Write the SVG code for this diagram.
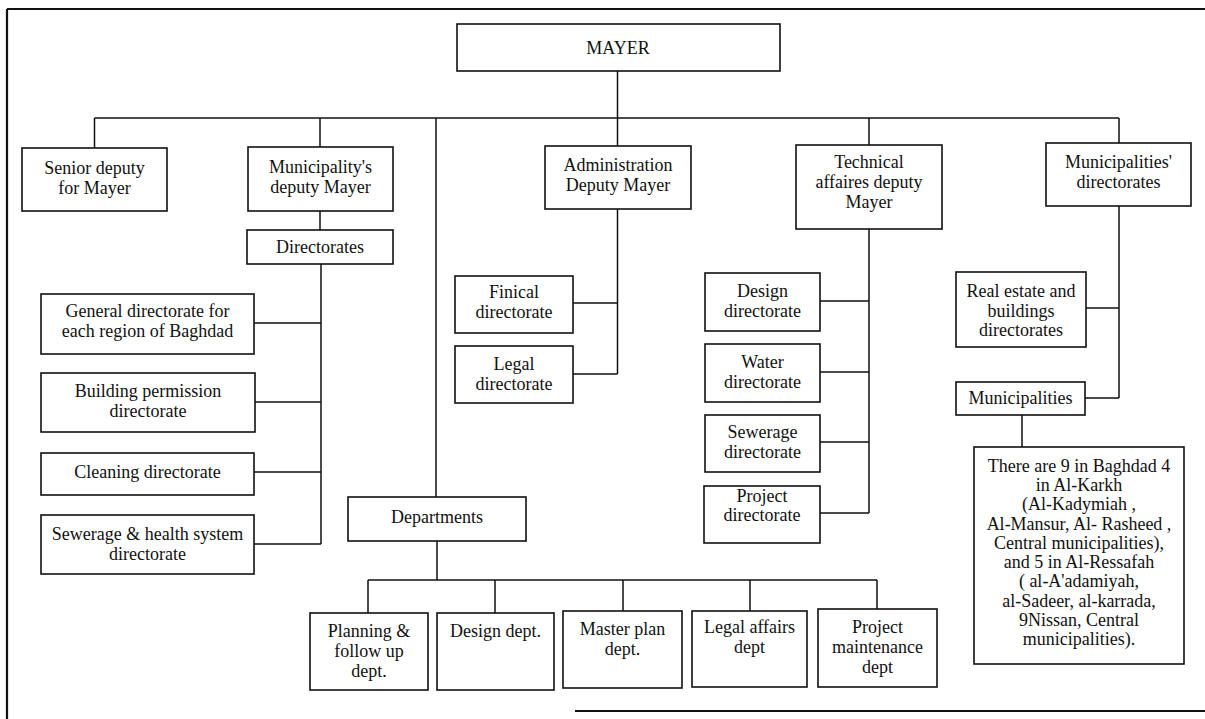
<svg xmlns="http://www.w3.org/2000/svg" width="1205" height="719" viewBox="0 0 1205 719">
<style>
.box{fill:#fff;stroke:#111;stroke-width:1.6}
.ln{fill:none;stroke:#111;stroke-width:1.5}
.frame{fill:none;stroke:#111;stroke-width:2.2}
text{font-family:"Liberation Serif","Times New Roman",serif;font-size:18px;fill:#111;text-anchor:middle}
</style>
<rect width="1205" height="719" fill="#fff"/>
<g id="frame">
<path class="frame" d="M7,9 H1205 M7,9 V719 M575,711 H1205"/>
</g>
<g id="connectors">
<path class="ln" d="M617.5,71 V118 M94.5,118 H1119 M94.5,118 V148 M320,118 V147 M436,118 V497 M617.5,118 V146 M869,118 V145 M1119,118 V143"/>
<path class="ln" d="M320,211 V230 M321,264 V544 M254,323 H321 M255,402 H321 M254,472 H321 M254,544 H321"/>
<path class="ln" d="M617.5,209 V374 M573,303 H617.5 M573,374 H617.5"/>
<path class="ln" d="M869,229 V513 M820,301 H869 M820,372 H869 M820,442 H869 M820,513 H869"/>
<path class="ln" d="M1119,206 V398 M1086,308 H1119 M1085,398 H1119 M1022,415 V447"/>
<path class="ln" d="M437,541 V580 M368,580 H877 M368,580 V613 M495,580 V613 M623,580 V611 M750,580 V611 M877,580 V609"/>
</g>
<g id="mayer"><rect class="box" x="457" y="24" width="323" height="47"/><text x="618" y="54">MAYER</text></g>
<g id="senior"><rect class="box" x="22" y="148" width="145" height="63"/><text x="94.5" y="174">Senior deputy</text><text x="94.5" y="194">for Mayer</text></g>
<g id="munideputy"><rect class="box" x="248" y="147" width="145" height="64"/><text x="320.5" y="173">Municipality's</text><text x="320.5" y="193">deputy Mayer</text></g>
<g id="admin"><rect class="box" x="545" y="146" width="146" height="63"/><text x="618" y="171">Administration</text><text x="618" y="191">Deputy Mayer</text></g>
<g id="technical"><rect class="box" x="796" y="145" width="146" height="84"/><text x="869" y="168">Technical</text><text x="869" y="188">affaires deputy</text><text x="869" y="208">Mayer</text></g>
<g id="munidirs"><rect class="box" x="1046" y="143" width="145" height="63"/><text x="1118.5" y="168">Municipalities'</text><text x="1118.5" y="188">directorates</text></g>
<g id="directorates"><rect class="box" x="247" y="230" width="146" height="34"/><text x="320" y="253">Directorates</text></g>
<g id="general"><rect class="box" x="41" y="294" width="213" height="60"/><text x="147.5" y="317">General directorate for</text><text x="147.5" y="337">each region of Baghdad</text></g>
<g id="building"><rect class="box" x="41" y="373" width="214" height="59"/><text x="148" y="397">Building permission</text><text x="148" y="417">directorate</text></g>
<g id="cleaning"><rect class="box" x="41" y="453" width="213" height="42"/><text x="147.5" y="478">Cleaning directorate</text></g>
<g id="sewhealth"><rect class="box" x="41" y="515" width="213" height="59"/><text x="147.5" y="540">Sewerage &amp; health system</text><text x="147.5" y="560">directorate</text></g>
<g id="finical"><rect class="box" x="455" y="276" width="118" height="57"/><text x="514" y="298">Finical</text><text x="514" y="318">directorate</text></g>
<g id="legal"><rect class="box" x="455" y="346" width="118" height="57"/><text x="514" y="370">Legal</text><text x="514" y="390">directorate</text></g>
<g id="design"><rect class="box" x="705" y="273" width="115" height="58"/><text x="762.5" y="297">Design</text><text x="762.5" y="317">directorate</text></g>
<g id="water"><rect class="box" x="705" y="344" width="115" height="58"/><text x="762.5" y="368">Water</text><text x="762.5" y="388">directorate</text></g>
<g id="sewerage"><rect class="box" x="705" y="415" width="115" height="57"/><text x="762.5" y="438">Sewerage</text><text x="762.5" y="458">directorate</text></g>
<g id="project"><rect class="box" x="704" y="486" width="116" height="57"/><text x="762" y="502">Project</text><text x="762" y="521">directorate</text></g>
<g id="realestate"><rect class="box" x="956" y="272" width="130" height="75"/><text x="1021" y="297">Real estate and</text><text x="1021" y="317">buildings</text><text x="1021" y="336">directorates</text></g>
<g id="municipalities"><rect class="box" x="956" y="382" width="129" height="33"/><text x="1020.5" y="404">Municipalities</text></g>
<g id="bigbox"><rect class="box" x="974" y="447" width="210" height="217"/>
<text x="1079" y="472">There are 9 in Baghdad 4</text>
<text x="1079" y="491">in Al-Karkh</text>
<text x="1079" y="510">(Al-Kadymiah ,</text>
<text x="1079" y="530">Al-Mansur, Al- Rasheed ,</text>
<text x="1079" y="549">Central municipalities),</text>
<text x="1079" y="568">and 5 in Al-Ressafah</text>
<text x="1079" y="587">( al-A'adamiyah,</text>
<text x="1079" y="607">al-Sadeer, al-karrada,</text>
<text x="1079" y="626">9Nissan, Central</text>
<text x="1079" y="645">municipalities).</text>
</g>
<g id="departments"><rect class="box" x="348" y="497" width="178" height="44"/><text x="437" y="523">Departments</text></g>
<g id="planning"><rect class="box" x="310" y="613" width="118" height="77"/><text x="369" y="637">Planning &amp;</text><text x="369" y="657">follow up</text><text x="369" y="677">dept.</text></g>
<g id="designdept"><rect class="box" x="437" y="613" width="117" height="77"/><text x="495.5" y="637">Design dept.</text></g>
<g id="masterplan"><rect class="box" x="563" y="611" width="119" height="77"/><text x="622.5" y="635">Master plan</text><text x="622.5" y="655">dept.</text></g>
<g id="legalaffairs"><rect class="box" x="692" y="611" width="115" height="76"/><text x="749.5" y="633">Legal affairs</text><text x="749.5" y="653">dept</text></g>
<g id="projmaint"><rect class="box" x="818" y="609" width="119" height="78"/><text x="877.5" y="633">Project</text><text x="877.5" y="653">maintenance</text><text x="877.5" y="673">dept</text></g>
</svg>
